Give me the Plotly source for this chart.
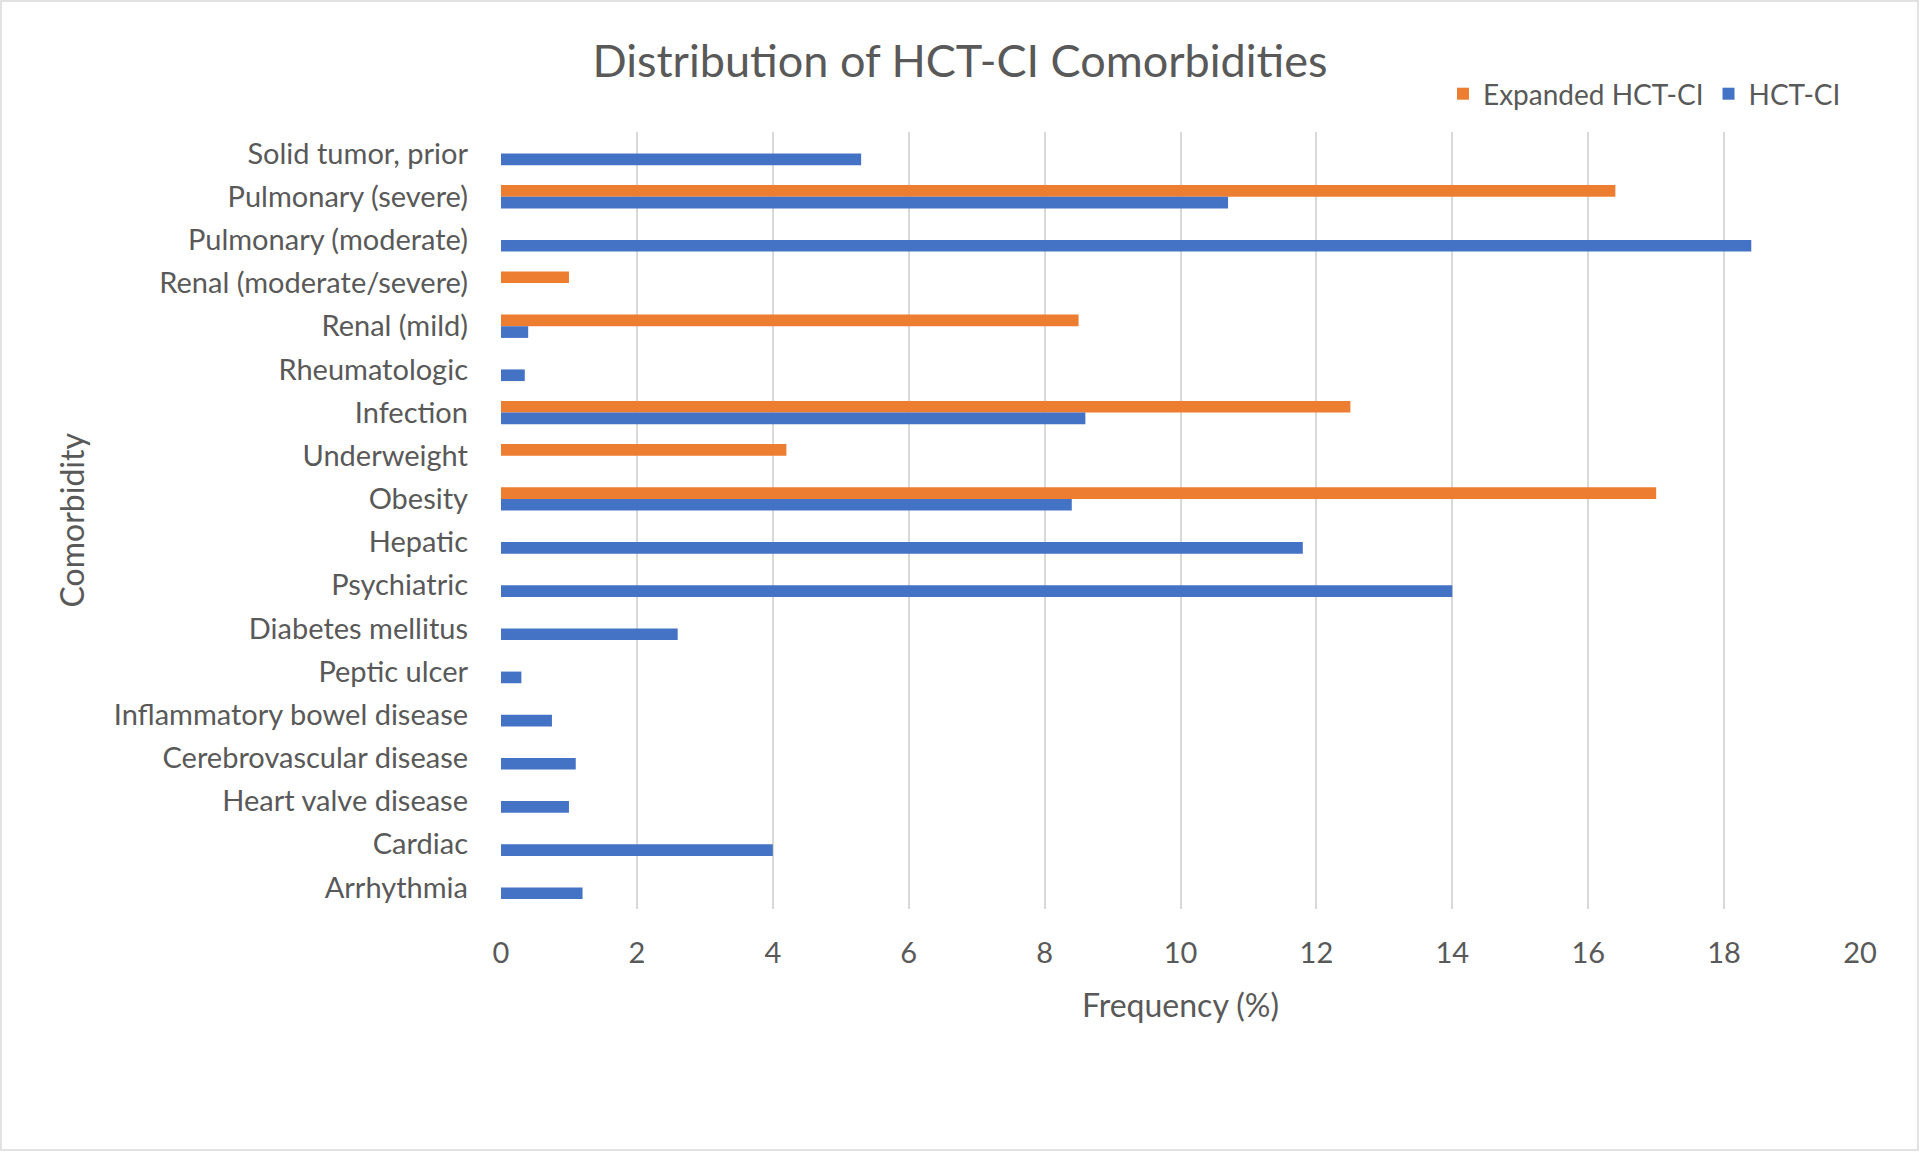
import plotly.graph_objects as go

categories = ["Solid tumor, prior", "Pulmonary (severe)", "Pulmonary (moderate)",
              "Renal (moderate/severe)", "Renal (mild)", "Rheumatologic", "Infection",
              "Underweight", "Obesity", "Hepatic", "Psychiatric", "Diabetes mellitus",
              "Peptic ulcer", "Inflammatory bowel disease", "Cerebrovascular disease",
              "Heart valve disease", "Cardiac", "Arrhythmia"]
expanded_hctci = [None, 16.4, None, 1.0, 8.5, None, 12.5, 4.2, 17.0, None, None, None,
                  None, None, None, None, None, None]
hctci = [5.3, 10.7, 18.4, None, 0.4, 0.35, 8.6, None, 8.4, 11.8, 14.0, 2.6,
         0.3, 0.75, 1.1, 1.0, 4.0, 1.2]
x_ticks = [0, 2, 4, 6, 8, 10, 12, 14, 16, 18, 20]

FONT = "Lato"
GREY = "#595959"

fig = go.Figure()
fig.add_trace(go.Bar(y=categories, x=expanded_hctci, orientation="h", name="Expanded HCT-CI",
                     marker=dict(color="#ED7D31", line=dict(width=0))))
fig.add_trace(go.Bar(y=categories, x=hctci, orientation="h", name="HCT-CI",
                     marker=dict(color="#4472C4", line=dict(width=0))))

W, H = 1920, 1153
L, R, T, B = 501, 60, 132, 244
pw, ph = W - L - R, H - T - B

fig.update_layout(
    width=W, height=H,
    margin=dict(l=L, r=R, t=T, b=B),
    paper_bgcolor="white", plot_bgcolor="white",
    barmode="group", bargap=0.46, bargroupgap=0,
    font=dict(family=FONT, color=GREY, size=29),
    title=dict(text="Distribution of HCT-CI Comorbidities", x=0.5, xref="container",
               xanchor="center", y=1 - 61 / H, yanchor="middle",
               font=dict(size=45, color=GREY, family=FONT)),
    legend=dict(orientation="h", x=1846 / W, xanchor="right", y=1 - 94 / H, yanchor="middle",
                xref="container", yref="container", traceorder="normal",
                font=dict(size=28, color=GREY, family=FONT), bgcolor="rgba(0,0,0,0)"),
    xaxis=dict(range=[0, 20], tickvals=x_ticks, showgrid=True, gridcolor="#D9D9D9", gridwidth=1.5,
               zeroline=False, showline=False, ticks="", ticklabelstandoff=24,
               tickfont=dict(size=29, color=GREY)),
    yaxis=dict(autorange="reversed", showgrid=False, zeroline=False, showline=False, ticks="",
               ticklabelstandoff=32, tickfont=dict(size=29, color=GREY)),
    shapes=[dict(type="rect", xref="paper", yref="paper",
                 x0=(1 - L) / pw, x1=(1918 - L) / pw,
                 y0=-(B - 3) / ph, y1=1 + (T - 1) / ph,
                 line=dict(color="#D9D9D9", width=1.5), fillcolor="rgba(0,0,0,0)", layer="below")],
    annotations=[
        dict(text="Frequency (%)", xref="paper", yref="paper", x=0.5, y=-(1004 - (H - B)) / ph,
             xanchor="center", yanchor="middle", showarrow=False,
             font=dict(size=32, color=GREY, family=FONT)),
        dict(text="Comorbidity", xref="paper", yref="paper", x=-(L - 71) / pw, y=0.5,
             xanchor="center", yanchor="middle", showarrow=False, textangle=-90,
             font=dict(size=32, color=GREY, family=FONT)),
    ],
)

fig.write_html("out.html", config={"displayModeBar": False},
               post_script="document.body.style.margin='0';document.body.style.overflow='hidden';")
